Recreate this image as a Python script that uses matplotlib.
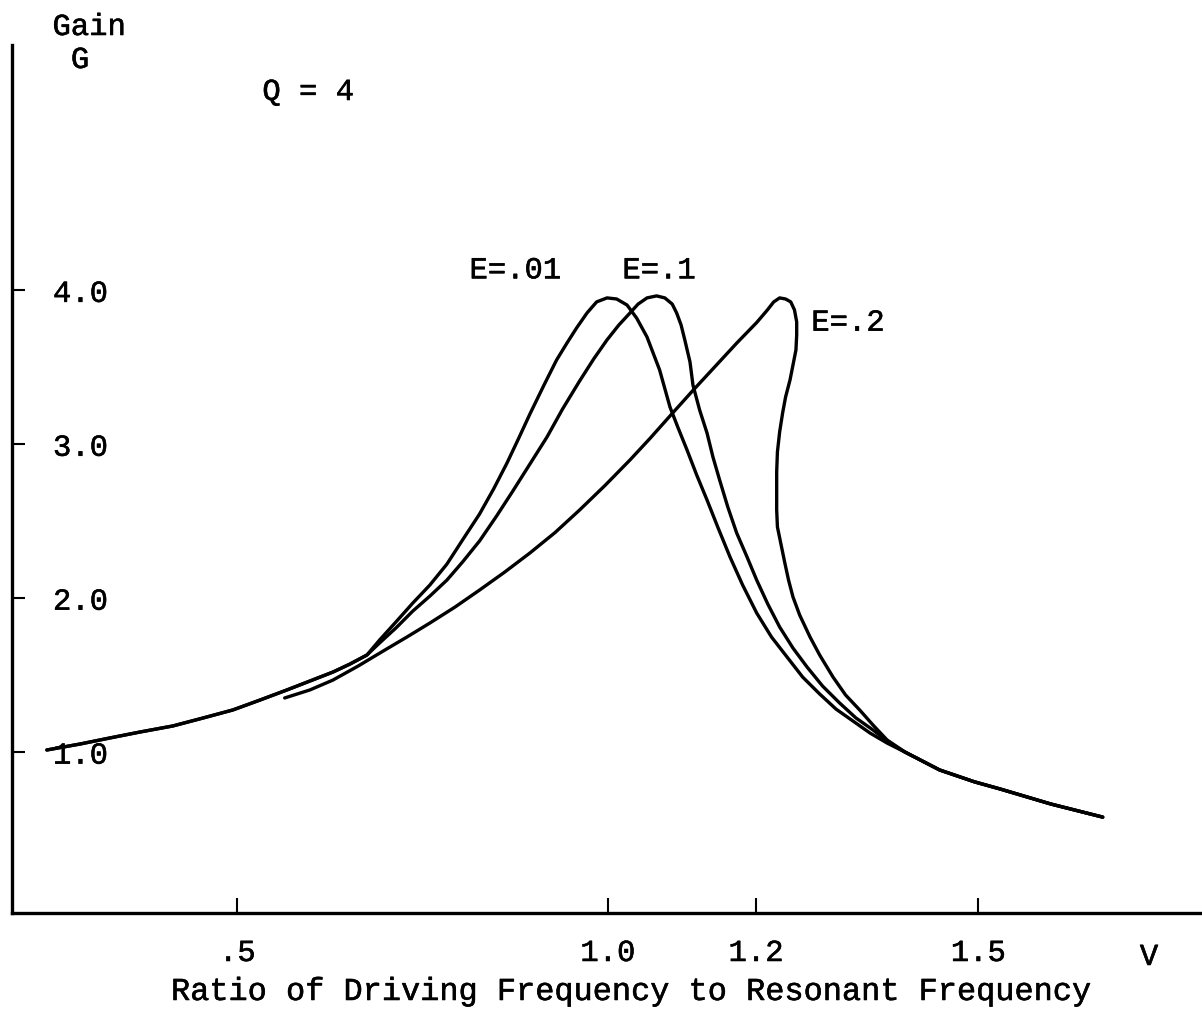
import matplotlib
matplotlib.use("Agg")
import matplotlib.pyplot as plt
import matplotlib.patheffects as pe

# gain curves, values (V = frequency ratio, G = gain)
common_v = [0.243, 0.288, 0.328, 0.369, 0.413, 0.454, 0.494, 0.531, 0.567,
            0.598, 0.629, 0.652, 0.675]
common_g = [1.014, 1.053, 1.092, 1.131, 1.170, 1.222, 1.274, 1.339, 1.404,
            1.462, 1.520, 1.572, 1.631]

e01_v = [0.692, 0.714, 0.737, 0.760, 0.783, 0.804, 0.827, 0.846, 0.864, 0.880,
         0.895, 0.914, 0.931, 0.945, 0.958, 0.972, 0.985, 0.999, 1.012, 1.026,
         1.039, 1.053, 1.070, 1.084, 1.095, 1.107, 1.120, 1.134, 1.149, 1.165,
         1.182, 1.201, 1.221, 1.242, 1.263, 1.286, 1.308, 1.331, 1.354, 1.377]
e01_g = [1.728, 1.845, 1.969, 2.086, 2.222, 2.378, 2.547, 2.710, 2.878, 3.041,
         3.197, 3.385, 3.548, 3.658, 3.756, 3.853, 3.925, 3.951, 3.944, 3.905,
         3.820, 3.697, 3.483, 3.242, 3.106, 2.963, 2.801, 2.638, 2.456, 2.268,
         2.086, 1.904, 1.748, 1.618, 1.488, 1.378, 1.280, 1.202, 1.124, 1.059]

e1_v = [0.692, 0.714, 0.737, 0.760, 0.783, 0.804, 0.827, 0.850, 0.872, 0.895,
        0.918, 0.939, 0.962, 0.981, 0.999, 1.015, 1.030, 1.041, 1.053, 1.066,
        1.077, 1.087, 1.093, 1.099, 1.104, 1.111, 1.115, 1.124, 1.134, 1.142,
        1.151, 1.162, 1.174, 1.188, 1.201, 1.216, 1.232, 1.250, 1.269, 1.290,
        1.313, 1.335, 1.358, 1.377]
e1_g = [1.709, 1.806, 1.917, 2.014, 2.118, 2.235, 2.372, 2.534, 2.697, 2.872,
        3.047, 3.229, 3.411, 3.554, 3.678, 3.775, 3.853, 3.911, 3.951, 3.964,
        3.951, 3.911, 3.853, 3.775, 3.678, 3.535, 3.385, 3.223, 3.073, 2.917,
        2.768, 2.593, 2.424, 2.268, 2.118, 1.962, 1.813, 1.676, 1.553, 1.429,
        1.319, 1.222, 1.144, 1.072]

e2_v = [0.564, 0.598, 0.629, 0.663, 0.697, 0.729, 0.760, 0.794, 0.827, 0.861,
        0.895, 0.929, 0.962, 0.996, 1.030, 1.057, 1.084, 1.115, 1.145, 1.174,
        1.201, 1.215, 1.224, 1.232, 1.240, 1.247, 1.252, 1.255, 1.255, 1.254,
        1.250, 1.246, 1.240, 1.236, 1.232, 1.229, 1.228, 1.228, 1.228, 1.229,
        1.234, 1.239, 1.244, 1.250, 1.259, 1.273, 1.286, 1.304, 1.321, 1.340,
        1.358, 1.377]
e2_g = [1.352, 1.404, 1.468, 1.559, 1.657, 1.748, 1.839, 1.943, 2.053, 2.170,
        2.294, 2.427, 2.573, 2.731, 2.898, 3.038, 3.184, 3.350, 3.506, 3.657,
        3.791, 3.870, 3.925, 3.951, 3.944, 3.925, 3.873, 3.795, 3.710, 3.613,
        3.515, 3.418, 3.307, 3.203, 3.080, 2.950, 2.820, 2.690, 2.573, 2.463,
        2.346, 2.229, 2.118, 2.008, 1.891, 1.748, 1.631, 1.488, 1.371, 1.274,
        1.176, 1.079]

tail_v = [1.401, 1.448, 1.495, 1.530, 1.598, 1.668]
tail_g = [1.001, 0.884, 0.807, 0.760, 0.663, 0.578]

x_ticks = [0.5, 1.0, 1.2, 1.5]
x_labels = ['.5', '1.0', '1.2', '1.5']
y_ticks = [1.0, 2.0, 3.0, 4.0]
y_labels = ['1.0', '2.0', '3.0', '4.0']

W, H = 1202, 1028
font = 'Liberation Mono'
fs = 22
ink = [pe.withStroke(linewidth=0.4, foreground='black')]  # typewriter ink

fig = plt.figure(figsize=(W / 100, H / 100), dpi=100)
ax = fig.add_axes([12 / W, 1 - 913 / H, 1 - 12 / W, (913 - 45) / H])

kw = dict(color='black', lw=2.4, solid_capstyle='round', solid_joinstyle='round')
ax.plot(common_v + e01_v + tail_v, common_g + e01_g + tail_g, **kw)
ax.plot(common_v + e1_v + tail_v, common_g + e1_g + tail_g, **kw)
ax.plot(e2_v + tail_v, e2_g + tail_g, **kw)

ax.set_xlim(0.196, 1.802)
ax.set_ylim(-0.045, 5.594)

for s in ['top', 'right']:
    ax.spines[s].set_visible(False)
for s in ['left', 'bottom']:
    ax.spines[s].set_linewidth(2.4)

ax.set_xticks(x_ticks)
ax.set_xticklabels(x_labels, fontfamily=font, fontsize=fs)
ax.set_yticks(y_ticks)
ax.set_yticklabels(y_labels, fontfamily=font, fontsize=fs, ha='left')
ax.tick_params(axis='x', direction='in', length=11, width=1.5, pad=18)
ax.tick_params(axis='y', direction='in', length=9, width=1.5, pad=-29.5)
for lab in ax.get_yticklabels():
    lab.set_verticalalignment('center_baseline')
for lab in ax.get_xticklabels() + ax.get_yticklabels():
    lab.set_path_effects(ink)

# curve labels
for v, g, s in [(0.875, 4.13, 'E=.01'), (1.069, 4.13, 'E=.1'), (1.324, 3.79, 'E=.2')]:
    ax.text(v, g, s, fontfamily=font, fontsize=fs, ha='center', va='center',
            path_effects=ink)


def ftext(px, py, s, size=fs):
    fig.text(px / W, 1 - py / H, s, fontfamily=font, fontsize=size,
             ha='center', va='baseline', path_effects=ink)


ftext(89, 35, 'Gain')
ftext(80, 68, 'G')
ftext(308, 100, 'Q = 4')
ftext(1149, 965, 'V')
ftext(633, 1000, 'Ratio of Driving Frequency to Resonant Frequency', size=23)

fig.savefig('out.png', dpi=100)
